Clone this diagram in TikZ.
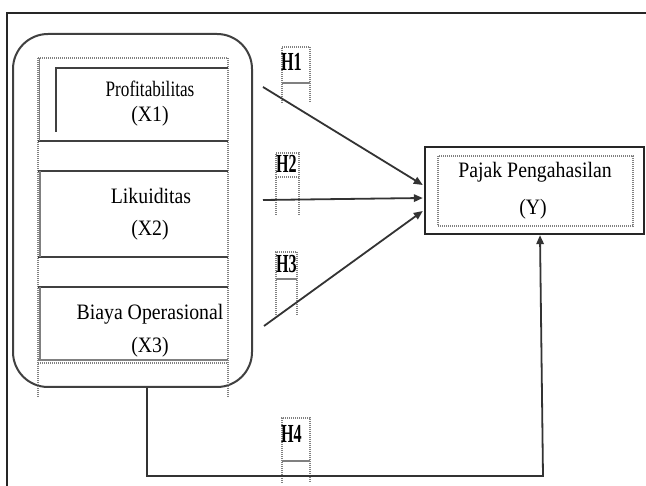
\documentclass[tikz,border=0pt]{standalone}
\usepackage{fontspec}
\setmainfont{Liberation Serif}
\usetikzlibrary{arrows.meta}
% condensed setting of the box captions
\newcommand{\narrowtxt}[2][0.9]{\scalebox{#1}[1]{#2}}
\begin{document}
\begin{tikzpicture}[x=1pt,y=-1pt,
  frameln/.style={line width=2.2pt, draw=black!85},
  solidln/.style={line width=1.8pt, draw=black!75},
  greyln/.style={line width=1.6pt, draw=black!50},
  dotln/.style={line width=1.1pt, draw=black!50, dash pattern=on 1pt off 1pt},
  arr/.style={line width=1.8pt, draw=black!80, -{Triangle[length=9pt,width=7.5pt]}},
  lbl/.style={inner sep=0pt, anchor=base, text=black,
    font=\fontsize{22}{22}\selectfont},
  hlbl/.style={inner sep=0pt, anchor=base west, text=black,
    font=\fontsize{26}{26}\selectfont\bfseries},
  group/.style={draw=black!75, line width=2pt, rounded corners=35pt,
    minimum width=239pt, minimum height=353pt, inner sep=0pt},
  target/.style={draw=black!85, line width=2.4pt,
    minimum width=219pt, minimum height=87pt, inner sep=0pt}
]
\path[use as bounding box] (0,0) rectangle (646,486);
\fill[white] (0,0) rectangle (646,486);

% outer frame
\draw[frameln] (7,490) -- (7,13) -- (650,13);

% group of independent variables
\node[group] (G) at (132.5,210.5) {};

% dotted column guides
\draw[dotln] (38,58) -- (38,398);
\draw[dotln] (228,58) -- (228,398);

% X1 box
\draw[dotln] (38,58) -- (228,58);
\draw[solidln] (56,132) -- (56,68) -- (228,68);
\draw[solidln] (38,141) -- (228,141);
\draw[greyln] (39.5,58) -- (39.5,141);
\node[lbl] (x1a) at (150,97) {\narrowtxt[0.78]{Profitabilitas}};
\node[lbl] (x1b) at (150,122) {\narrowtxt{(X1)}};

% X2 box
\draw[solidln] (38,171) -- (228,171);
\draw[solidln] (38,257) -- (228,257);
\draw[greyln] (40,171) -- (40,257);
\node[lbl] (x2a) at (151,204) {\narrowtxt{Likuiditas}};
\node[lbl] (x2b) at (150,236) {\narrowtxt{(X2)}};

% X3 box
\draw[solidln] (38,287) -- (228,287);
\draw[greyln] (38,360) -- (228,360);
\draw[dotln] (38,363) -- (228,363);
\draw[greyln] (40,287) -- (40,361);
\node[lbl] (x3a) at (150,320) {\narrowtxt{Biaya Operasional}};
\node[lbl] (x3b) at (150,353) {\narrowtxt{(X3)}};

% dependent variable
\node[target] (Y) at (534.5,190.5) {};
\draw[dotln] (438,156) rectangle (633,226);
\node[lbl] (ya) at (535,178) {\narrowtxt{Pajak Pengahasilan}};
\node[lbl] (yb) at (533,215) {\narrowtxt{(Y)}};

% hypothesis labels
\draw[dotln] (282,103) -- (282,47) -- (310,47) -- (310,103);
\draw[greyln] (282,83) -- (310,83);
\node[hlbl] (h1) at (281,71) {\scalebox{0.62}[1]{H1}};

\draw[dotln] (276,215) -- (276,153) -- (299,153) -- (299,215);
\draw[dotln] (276,177) -- (299,177);
\node[hlbl] (h2) at (276,173) {\scalebox{0.62}[1]{H2}};

\draw[dotln] (276,315) -- (276,252) -- (297,252) -- (297,315);
\draw[greyln] (276,279) -- (297,279);
\node[hlbl] (h3) at (276,273) {\scalebox{0.62}[1]{H3}};

\draw[dotln] (282,483) -- (282,418) -- (310,418) -- (310,483);
\draw[greyln] (282,461) -- (310,461);
\node[hlbl] (h4) at (281,443) {\scalebox{0.62}[1]{H4}};

% connectors
\coordinate (s1) at (263,87);
\coordinate (s2) at (263,200);
\coordinate (s3) at (264,326);
\coordinate (c4) at (543,476);
\draw[arr] (s1) -- ([yshift=5.5pt,xshift=-1pt]Y.west);
\draw[arr] (s2) -- ([yshift=-7.5pt,xshift=-1pt]Y.west);
\draw[arr] (s3) -- ([yshift=-20.5pt,xshift=-1pt]Y.west);
\draw[arr] ([xshift=14.5pt]G.south) |- (c4) -- ([xshift=5.5pt]Y.south);
\end{tikzpicture}
\end{document}
